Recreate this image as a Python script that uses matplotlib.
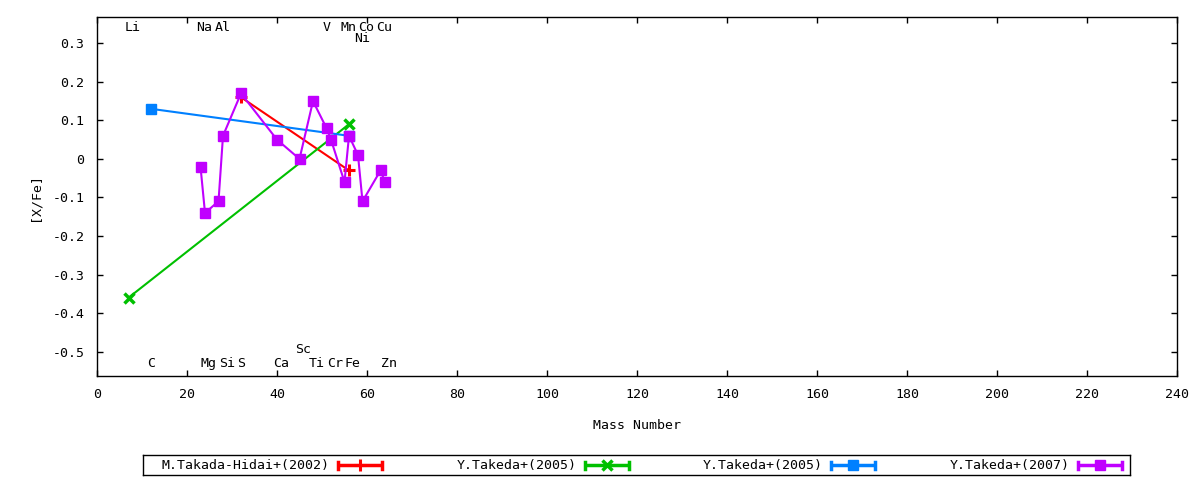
import matplotlib
matplotlib.use("Agg")
import matplotlib.pyplot as plt
from matplotlib.lines import Line2D
import matplotlib.transforms as mtransforms

plt.rcParams['font.family'] = ['DejaVu Sans Mono']
plt.rcParams['font.size'] = 9.5

# ---- data ----
takada_hidai_2002_x = [32, 56]
takada_hidai_2002_y = [0.16, -0.03]

takeda_2005a_x = [7, 56]
takeda_2005a_y = [-0.36, 0.09]

takeda_2005b_x = [12, 56]
takeda_2005b_y = [0.13, 0.06]

takeda_2007_x = [23, 24, 27, 28, 32, 40, 45, 48, 51, 52, 55, 56, 58, 59, 63, 64]
takeda_2007_y = [-0.02, -0.14, -0.11, 0.06, 0.17, 0.05, 0.0, 0.15, 0.08, 0.05,
                 -0.06, 0.06, 0.01, -0.11, -0.03, -0.06]

series_names = ["M.Takada-Hidai+(2002)", "Y.Takeda+(2005)", "Y.Takeda+(2005)", "Y.Takeda+(2007)"]
series_colors = ["#ff0000", "#00c000", "#0080ff", "#c000ff"]
series_markers = ["+", "x", "s", "s"]

element_names = ["Li", "Na", "Al", "V", "Mn", "Co", "Cu", "Ni",
                 "C", "Mg", "Si", "S", "Ca", "Ti", "Cr", "Fe", "Zn", "Sc"]
element_mass = [7, 23, 27, 51, 55, 59, 63, 58,
                12, 24, 28, 32, 40, 48, 52, 56, 64, 45]
element_label_y = [0.34, 0.34, 0.34, 0.34, 0.34, 0.34, 0.34, 0.313,
                   -0.53, -0.53, -0.53, -0.53, -0.53, -0.53, -0.53, -0.53, -0.53, -0.494]

x_ticks = list(range(0, 241, 20))
y_ticks = [-0.5, -0.4, -0.3, -0.2, -0.1, 0.0, 0.1, 0.2, 0.3]
y_tick_labels = ["-0.5", "-0.4", "-0.3", "-0.2", "-0.1", "0", "0.1", "0.2", "0.3"]

fig = plt.figure(figsize=(12, 4.8), dpi=100)
ax = fig.add_axes([97/1200, 1 - 375.7/480, 1080/1200, (375.7 - 17.3)/480])

xs = [takada_hidai_2002_x, takeda_2005a_x, takeda_2005b_x, takeda_2007_x]
ys = [takada_hidai_2002_y, takeda_2005a_y, takeda_2005b_y, takeda_2007_y]
msizes = [8, 7, 7, 7]
mews = [2.2, 2.5, 1, 1]
for x, y, c, m, ms, mew in zip(xs, ys, series_colors, series_markers, msizes, mews):
    ax.plot(x, y, color=c, lw=1.5, marker=m, ms=ms, mew=mew, mec=c, mfc=c)

ax.set_xlim(0, 240)
ax.set_ylim(-0.5623, 0.3674)
ax.set_xticks(x_ticks)
ax.set_yticks(y_ticks)
ax.set_yticklabels(y_tick_labels)
ax.tick_params(direction='in', length=4, width=1, top=True, right=True, color='black')
ax.tick_params(axis='x', pad=9)
ax.tick_params(axis='y', pad=9)
for s in ax.spines.values():
    s.set_linewidth(1)
ax.set_xlabel("Mass Number", labelpad=13)
ax.set_ylabel("[X/Fe]", labelpad=8)

offset = mtransforms.ScaledTranslation(-4.2/100, 0, fig.dpi_scale_trans)
for name, mx, my in zip(element_names, element_mass, element_label_y):
    ax.text(mx, my, name, ha='left', va='center', transform=ax.transData + offset)

# ---- legend (gnuplot style, horizontal box) ----
lax = fig.add_axes([143/1200, 5/480, 987/1200, 20/480])
lax.set_xlim(143, 1130)
lax.set_ylim(0, 20)
lax.set_xticks([])
lax.set_yticks([])
for s in lax.spines.values():
    s.set_linewidth(1)
text_ends = [330, 577, 823, 1070]
for name, c, m, ms, mew, te in zip(series_names, series_colors, series_markers, msizes, mews, text_ends):
    lax.text(te, 10, name, ha='right', va='center')
    x0, x1 = te + 8, te + 52
    lax.plot([x0, x1], [10, 10], color=c, lw=2.5, solid_capstyle='butt')
    lax.plot([x0, x0], [6.5, 13.5], color=c, lw=2.5)
    lax.plot([x1, x1], [6.5, 13.5], color=c, lw=2.5)
    lax.plot([(x0 + x1) / 2], [10], marker=m, ms=ms, mew=mew, color=c, mec=c, mfc=c)

fig.savefig("out.png", dpi=100)
